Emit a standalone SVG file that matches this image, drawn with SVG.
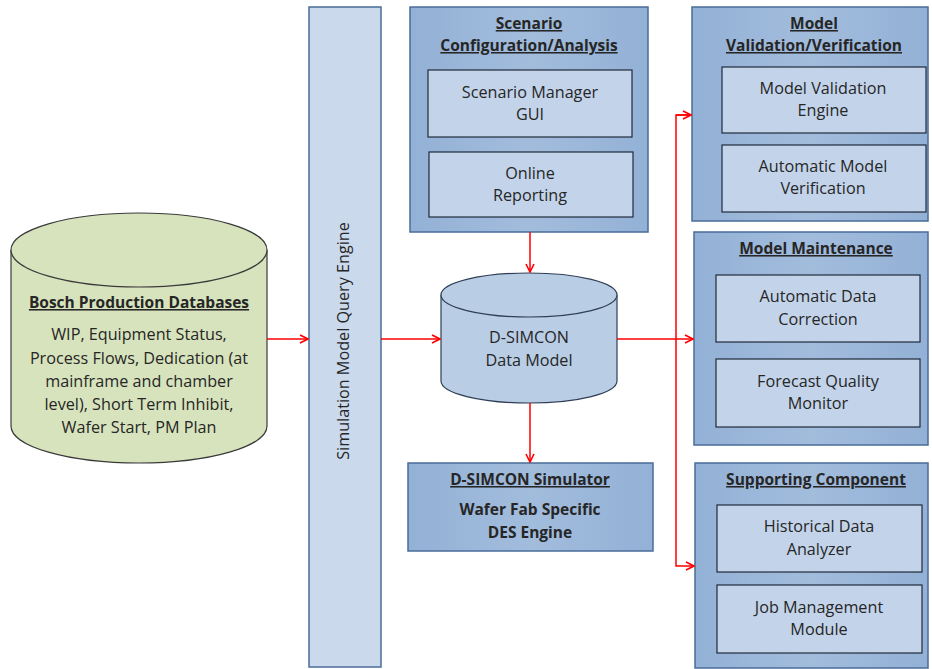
<svg xmlns="http://www.w3.org/2000/svg" width="932" height="669" viewBox="0 0 932 669">
<defs>
<marker id="arr" viewBox="0 0 10 10" refX="9" refY="5" markerWidth="10" markerHeight="10" markerUnits="userSpaceOnUse" orient="auto">
<path d="M1,1 L9,5 L1,9" fill="none" stroke="#ff0000" stroke-width="1.6"/>
</marker>
<linearGradient id="outerG" x1="0" y1="0" x2="1" y2="0">
<stop offset="0" stop-color="#93b1d6"/>
<stop offset="0.5" stop-color="#a2bcdc"/>
<stop offset="1" stop-color="#93b1d6"/>
</linearGradient>
</defs>
<style>
.t{font-family:"Open Sans","Liberation Sans",sans-serif;font-size:16.2px;fill:#262626;text-anchor:middle}
.b{font-weight:bold;font-size:15.5px}
.u{text-decoration:underline}
.outer{fill:url(#outerG);stroke:#4a6c98;stroke-width:1.5}
.inner{fill:#c3d4ea;stroke:#1e2a3a;stroke-width:1.2}
.bar{fill:#cbd9ed;stroke:#4a6c98;stroke-width:1.5}
.cyl1{fill:#d7e3bc;stroke:#3a3a3a;stroke-width:1.2}
.cyl2{fill:#b9cde5;stroke:#2e3f55;stroke-width:1.2}
.c{fill:none;stroke:#ff0000;stroke-width:1.5}
</style>
<rect width="932" height="669" fill="#ffffff"/>

<g id="bosch-db">
<path class="cyl1" d="M11,250 L11,426 A128,37 0 0 0 267,426 L267,250"/>
<ellipse class="cyl1" cx="139" cy="250" rx="128" ry="37"/>
<text class="t b u" x="139" y="308">Bosch Production Databases</text>
<text class="t" x="139" y="340">WIP, Equipment Status,</text>
<text class="t" x="139" y="364">Process Flows, Dedication (at</text>
<text class="t" x="139" y="387">mainframe and chamber</text>
<text class="t" x="139" y="410">level), Short Term Inhibit,</text>
<text class="t" x="139" y="433">Wafer Start, PM Plan</text>
</g>

<g id="query-engine">
<rect class="bar" x="309" y="7" width="72" height="660"/>
<text class="t" transform="translate(349,341) rotate(-90)">Simulation Model Query Engine</text>
</g>

<g id="scenario">
<rect class="outer" x="410" y="7" width="238" height="225"/>
<text class="t b u" x="529" y="29">Scenario</text>
<text class="t b u" x="529" y="51">Configuration/Analysis</text>
<rect class="inner" x="428" y="70" width="204" height="67"/>
<text class="t" x="530" y="98">Scenario Manager</text>
<text class="t" x="530" y="120">GUI</text>
<rect class="inner" x="429" y="152" width="204" height="65"/>
<text class="t" x="530" y="179">Online</text>
<text class="t" x="530" y="201">Reporting</text>
</g>

<g id="data-model">
<path class="cyl2" d="M441,295 L441,381 A88,22 0 0 0 617,381 L617,295"/>
<ellipse class="cyl2" cx="529" cy="295" rx="88" ry="22"/>
<text class="t" x="529" y="343">D-SIMCON</text>
<text class="t" x="529" y="366">Data Model</text>
</g>

<g id="simulator">
<rect class="outer" x="408" y="463" width="245" height="88"/>
<text class="t b u" x="530" y="485">D-SIMCON Simulator</text>
<text class="t b" x="530" y="515">Wafer Fab Specific</text>
<text class="t b" x="530" y="538">DES Engine</text>
</g>

<g id="validation">
<rect class="outer" x="692" y="7" width="236" height="214"/>
<text class="t b u" x="814" y="29">Model</text>
<text class="t b u" x="814" y="51">Validation/Verification</text>
<rect class="inner" x="722" y="67" width="204" height="66"/>
<text class="t" x="823" y="94">Model Validation</text>
<text class="t" x="823" y="116">Engine</text>
<rect class="inner" x="722" y="145" width="204" height="67"/>
<text class="t" x="823" y="172">Automatic Model</text>
<text class="t" x="823" y="194">Verification</text>
</g>

<g id="maintenance">
<rect class="outer" x="694" y="232" width="234" height="213"/>
<text class="t b u" x="816" y="254">Model Maintenance</text>
<rect class="inner" x="716" y="275" width="204" height="67"/>
<text class="t" x="818" y="302">Automatic Data</text>
<text class="t" x="818" y="325">Correction</text>
<rect class="inner" x="716" y="359" width="204" height="68"/>
<text class="t" x="818" y="387">Forecast Quality</text>
<text class="t" x="818" y="409">Monitor</text>
</g>

<g id="supporting">
<rect class="outer" x="695" y="463" width="233" height="205"/>
<text class="t b u" x="816" y="485">Supporting Component</text>
<rect class="inner" x="717" y="505" width="205" height="67"/>
<text class="t" x="819" y="532">Historical Data</text>
<text class="t" x="819" y="555">Analyzer</text>
<rect class="inner" x="717" y="585" width="205" height="68"/>
<text class="t" x="819" y="613">Job Management</text>
<text class="t" x="819" y="635">Module</text>
</g>

<g id="connectors">
<line class="c" x1="267" y1="339" x2="308" y2="339" marker-end="url(#arr)"/>
<line class="c" x1="381" y1="339" x2="440" y2="339" marker-end="url(#arr)"/>
<line class="c" x1="530" y1="232" x2="530" y2="272" marker-end="url(#arr)"/>
<line class="c" x1="530" y1="403" x2="530" y2="462" marker-end="url(#arr)"/>
<line class="c" x1="617" y1="339" x2="693" y2="339" marker-end="url(#arr)"/>
<polyline class="c" points="691,115 676,115 676,566 694,566" marker-end="url(#arr)"/>
<line class="c" x1="676" y1="115" x2="691" y2="115" marker-end="url(#arr)"/>
</g>
</svg>
